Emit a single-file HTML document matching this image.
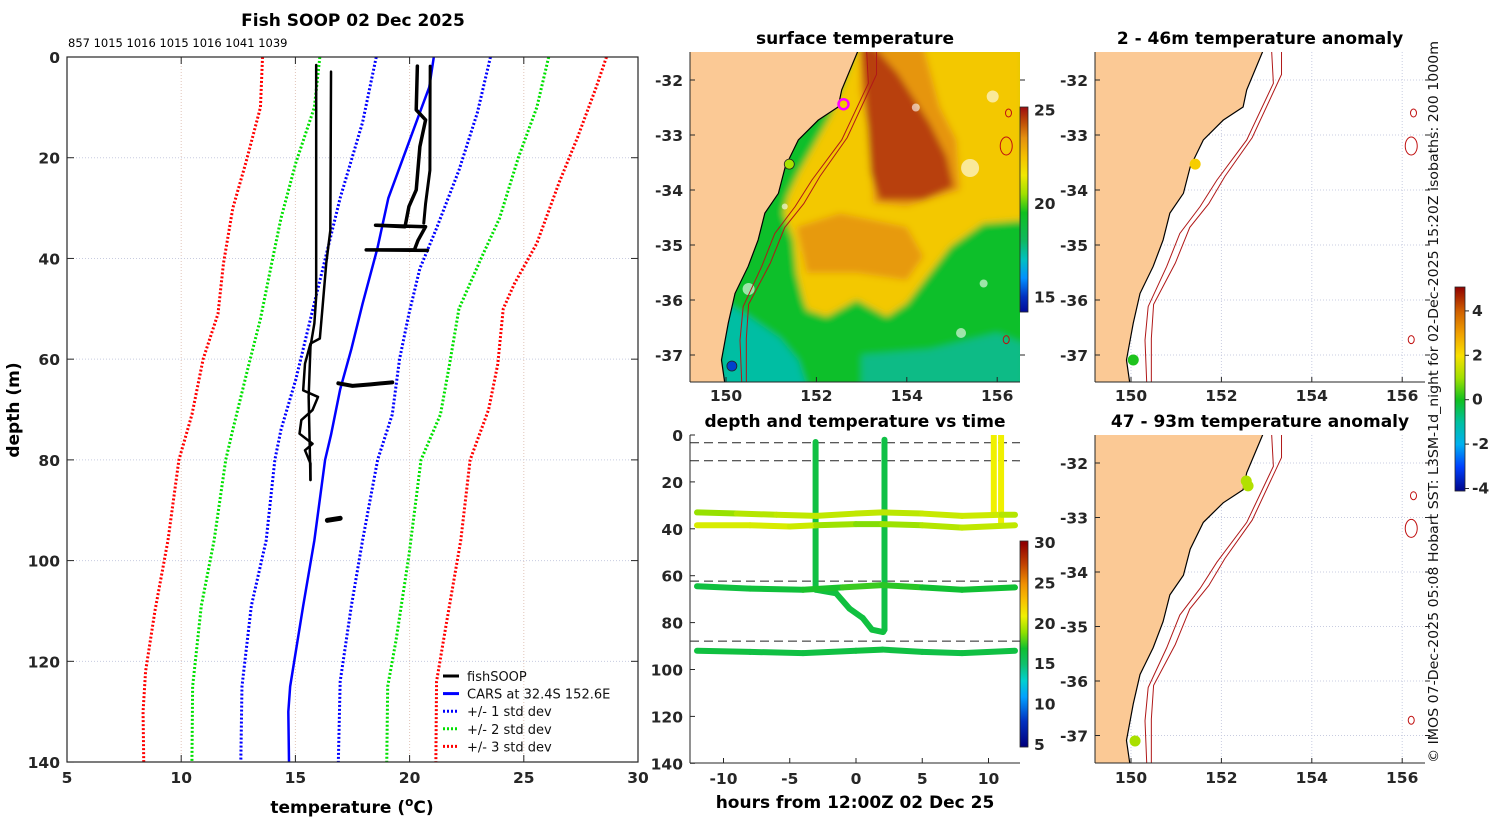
<!DOCTYPE html>
<html><head><meta charset="utf-8">
<style>
html,body{margin:0;padding:0;background:#fff;}
svg{display:block;font-family:"DejaVu Sans","Liberation Sans",sans-serif;}
.tk{font-weight:bold;font-size:15.5px;fill:#262626;}
.ttl{font-weight:bold;font-size:17px;fill:#000;}
</style></head>
<body>
<svg id="chart" width="1500" height="820" viewBox="0 0 1500 820" xmlns="http://www.w3.org/2000/svg">
<defs>
<clipPath id="clip1"><rect x="67" y="57" width="571" height="705"/></clipPath>
<clipPath id="clip2"><rect x="690" y="52" width="330" height="330"/></clipPath>
<clipPath id="clip3"><rect x="690" y="435" width="330" height="328"/></clipPath>
<clipPath id="clip4"><rect x="1095" y="52" width="330" height="330"/></clipPath>
<clipPath id="clip5"><rect x="1095" y="435" width="330" height="328"/></clipPath>
<filter id="blur" x="-5%" y="-5%" width="110%" height="110%"><feGaussianBlur stdDeviation="3.5"/></filter>
</defs>
<text class="ttl" x="353" y="26" text-anchor="middle">Fish SOOP 02 Dec 2025</text>
<text x="68" y="47" font-size="11.5" fill="#000">857 1015 1016 1015 1016 1041 1039</text>
<text class="ttl" x="855" y="44" text-anchor="middle">surface temperature</text>
<text class="ttl" x="1260" y="44" text-anchor="middle">2 - 46m temperature anomaly</text>
<text class="ttl" x="855" y="427" text-anchor="middle">depth and temperature vs time</text>
<text class="ttl" x="1260" y="427" text-anchor="middle">47 - 93m temperature anomaly</text>
<text class="ttl" x="0" y="0" text-anchor="middle" transform="translate(19,410) rotate(-90)">depth (m)</text>
<text class="ttl" x="352" y="813" text-anchor="middle">temperature (<tspan dy="-7" font-size="12">o</tspan><tspan dy="7">C)</tspan></text>
<text class="ttl" x="855" y="808" text-anchor="middle">hours from 12:00Z 02 Dec 25</text>
<text x="0" y="0" font-size="13" fill="#111" textLength="722" lengthAdjust="spacingAndGlyphs" transform="translate(1438,763) rotate(-90)">© IMOS 07-Dec-2025 05:08 Hobart SST: L3SM-1d_night for 02-Dec-2025 15:20Z isobaths: 200  1000m</text>
</svg>
<script>
// ---------- Panel 1 data ----------
const xTicks1 = [5,10,15,20,25,30];
const yTicks1 = [0,20,40,60,80,100,120,140];
const carsDepth = [0,6,11,20,28,38,49,58,66,75,80,96,109,125,130,140];
const carsTemp  = [21.06,20.86,20.45,19.72,19.07,18.59,17.94,17.45,16.96,16.56,16.3,15.83,15.34,14.77,14.69,14.72];
const sd1LoDepth = [0,13,28,40,52,64,74,80,96,109,125,140];
const sd1LoTemp  = [18.54,17.94,16.96,16.31,15.66,15.02,14.37,14.1,13.72,13.07,12.66,12.61];
const sd1HiDepth = [0,11,22.5,34,42,51,60,71,80,96,109,124,140];
const sd1HiTemp  = [23.54,22.97,22.16,21.18,20.45,19.97,19.56,19.24,18.6,17.94,17.45,16.96,16.88];
const sd2LoDepth = [0,10,21,32,41,52,62,74,80,96,109,125,140];
const sd2LoTemp  = [16.07,15.83,15.02,14.37,13.96,13.47,12.91,12.26,11.95,11.44,10.88,10.5,10.47];
const sd2HiDepth = [0,10,20,32,40,50,61,71,80,99,116,125,140];
const sd2HiTemp  = [26.09,25.57,24.76,23.94,23.13,22.16,21.75,21.35,20.5,19.97,19.4,19.04,19.0];
const sd3LoDepth = [0,10,21,30,41,51,60,71,80,96,110,122,130,140];
const sd3LoTemp  = [13.56,13.47,12.83,12.26,11.85,11.61,10.96,10.47,9.9,9.42,8.85,8.44,8.33,8.36];
const sd3HiDepth = [0,6,16,25,37,45,50,61,70,80,96,113,124,140];
const sd3HiTemp  = [28.62,28.17,27.35,26.54,25.57,24.59,24.1,23.86,23.46,22.65,22.24,21.59,21.18,21.15];
const castATemp  = [15.91,15.91,15.83,15.66,15.58,15.66];
const castADepth = [1.6,47.6,52.9,57.5,67.5,84];
const castBTemp  = [16.56,16.53,16.35,16.19,16.07,15.66,15.42,15.34,15.99,15.75,15.26,15.18,15.75,15.42,15.66,15.66];
const castBDepth = [2.9,34.4,41,49.6,55.9,56.9,60.9,66.2,67.5,70.1,72.1,74.8,76.8,78.1,80.7,84];
const castCTemp  = [20.34,20.29,20.7,20.45,20.29,19.97,19.8,18.51,20.7,20.37,20.21,18.1,20.78];
const castCDepth = [1.8,10.5,12.5,17.8,26.4,29.7,33.7,33.4,33.7,36.4,38.3,38.3,38.4];
const castDTemp  = [20.9,20.89,20.7,20.62];
const castDDepth = [1.8,22.5,29.1,33];
const blob65Temp  = [16.88,17.5,18.3,19.24];
const blob65Depth = [64.8,65.3,65,64.6];
const blob92Temp  = [16.4,16.96];
const blob92Depth = [92,91.6];

// ---------- Panel 3 data ----------
const hourTicks = [-10,-5,0,5,10];
const depthTicks3 = [0,20,40,60,80,100,120,140];
const t34Hours = [-12,-9,-6,-3,0,2,5,8,11,12];
const t34Depth = [33,33.5,34,34.5,33.5,33,33.5,34.5,34,34];
const t34Temp  = [18.8,19.5,20,20,20,20,19.8,20.5,20,19.5];
const t38Hours = [-12,-8,-5,-3,0,2,5,8,12];
const t38Depth = [38.5,38.5,39,38.5,38,38,38.5,39.5,38.5];
const t38Temp  = [20.5,20.5,20.5,20,18.6,19,19.5,20,20];
const t65Hours = [-12,-8,-4,-1,2,5,8,12];
const t65Depth = [64.5,65.5,66,65,64,65,66,65];
const t65Temp  = [16.5,16.5,16.8,17.5,17.8,17,16.8,17];
const t92Hours = [-12,-8,-4,0,2,5,8,12];
const t92Depth = [92,92.5,93,92,91.5,92.5,93,92];
const t92Temp  = [16.5,16.5,16.3,16.5,16.5,16.3,16.3,16.5];
const v1Hours = [-3.05,-3.05]; const v1Depth = [3,66]; const v1Temp = [16.4,16.4];
const v2Hours = [2.15,2.15,2.05]; const v2Depth = [2,83,84]; const v2Temp = [16.3,16.3,16.3];
const dgHours = [-3,-1.5,-0.5,0.5,1.2,2]; const dgDepth = [66,67.5,74,78,83,84]; const dgTemp = [16.5,16.5,16.5,16.5,16.5,16.5];
const v3Hours = [10.4,10.4]; const v3Depth = [0,34]; const v3Temp = [21,21];
const v4Hours = [10.95,10.95]; const v4Depth = [0,38]; const v4Temp = [21,21];
const dashDepths = [3.3,11,62.3,87.9];
const cbTicks3 = [5,10,15,20,25,30];

// ---------- Map data (lon, lat) ----------
const lonTicks = [150,152,154,156];
const latTicks = [-32,-33,-34,-35,-36,-37];
const coastLon = [152.93,152.56,152.48,152.04,151.6,151.31,151.16,150.86,150.71,150.49,150.2,150.05,149.9,149.98];
const coastLat = [-31.45,-32.18,-32.49,-32.73,-33.09,-33.58,-34.06,-34.42,-34.91,-35.39,-35.88,-36.42,-37.09,-37.55];
const iso200Lon = [153.11,153.15,152.56,151.9,151.53,151.08,150.79,150.38,150.31,150.35];
const iso200Lat = [-31.45,-32.06,-33.09,-33.82,-34.3,-34.79,-35.39,-36.12,-36.73,-37.55];
const iso1000Lon = [153.33,153.33,152.68,152.08,151.72,151.3,150.98,150.5,150.45,150.45];
const iso1000Lat = [-31.45,-31.9,-33.05,-33.75,-34.25,-34.68,-35.33,-36.08,-36.7,-37.55];
const mountLon = [156.25,156.2,156.2];
const mountLat = [-32.6,-33.2,-36.72];
const yellowLon = [151.27,151.49,151.56,151.71,151.79,152.23,152.89,153.56,154.0,154.51,154.96,155.69,156.6,156.6,152.89,152.55,152.3,151.6,151.36];
const yellowLat = [-34.42,-34.91,-35.51,-36.0,-36.18,-36.3,-36.0,-36.3,-36.06,-35.51,-35.03,-34.61,-34.55,-31.4,-31.4,-32.18,-32.67,-33.7,-34.12];
const orangeLon = [152.96,154.37,154.73,155.1,155.18,154.0,153.26,153.19,152.96];
const orangeLat = [-31.4,-31.4,-32.49,-33.09,-34.0,-34.3,-34.24,-33.09,-32.18];
const orange2Lon = [151.56,152.52,154.0,154.37,154.0,152.89,151.79];
const orange2Lat = [-34.67,-34.42,-34.67,-35.21,-35.64,-35.51,-35.51];
const brownLon = [152.98,153.28,153.8,154.51,154.88,155.03,154.37,153.4,153.2,153.1];
const brownLat = [-31.4,-31.4,-31.88,-32.79,-33.39,-33.94,-34.18,-34.18,-33.7,-32.49];
const tealLon = [149.9,150.5,151.2,151.6,151.8,149.9];
const tealLat = [-36.0,-36.3,-36.7,-37.1,-37.6,-37.6];
const teal2Lon = [153.0,154.5,156.0,156.6,156.6,153.0];
const teal2Lat = [-37.0,-36.9,-36.6,-36.8,-37.6,-37.6];
const fieldTemps = [19.3,22.3,23.4,23.3,24.5,17.3,17.6];
const cloudLon = [155.4,155.9,150.5,150.9,151.3,155.7,155.2,154.2];
const cloudLat = [-33.6,-32.3,-35.8,-33.4,-34.3,-35.7,-36.6,-32.5];
const cloudR   = [9,6,6,4,3,4,5,4];
const sstDotLon = [151.4,150.13]; const sstDotLat = [-33.53,-37.2]; const sstDotTemp = [20.6,15.2];
const shipLon = 152.6; const shipLat = -32.44;
const anom1Lon = [151.42,150.05]; const anom1Lat = [-33.53,-37.09]; const anom1Val = [2.3,0.1];
const anom2Lon = [152.59,152.55,150.09]; const anom2Lat = [-32.42,-32.33,-37.1]; const anom2Val = [1.2,1.2,1.1];
const sstTicks = [15,20,25];
const anomTicks = [-4,-2,0,2,4];

// ---------- helpers ----------
const NS='http://www.w3.org/2000/svg';
const svg=document.getElementById('chart');
function mk(parent, tag, attrs, name, inter){
  const el=document.createElementNS(NS,tag);
  for(const k in attrs) el.setAttribute(k, attrs[k]);
  
  
  parent.appendChild(el); return el;
}
function hex2rgb(h){return [parseInt(h.slice(1,3),16),parseInt(h.slice(3,5),16),parseInt(h.slice(5,7),16)];}
function cmap(stops, v){
  if(v<=stops[0][0]) return stops[0][1];
  for(let i=1;i<stops.length;i++){
    if(v<=stops[i][0]){
      const f=(v-stops[i-1][0])/(stops[i][0]-stops[i-1][0]);
      const a=hex2rgb(stops[i-1][1]), b=hex2rgb(stops[i][1]);
      return 'rgb('+a.map((x,j)=>Math.round(x+(b[j]-x)*f)).join(',')+')';
    }
  }
  return stops[stops.length-1][1];
}
const sstStops=[[14,'#00008f'],[15,'#0030c0'],[16,'#0090ff'],[17,'#00c0c0'],[18,'#10b860'],[19.5,'#10c020'],[20.5,'#a0e000'],[21.5,'#f0e800'],[22.5,'#f4c000'],[23.5,'#e49010'],[24.3,'#c05008'],[25.1,'#a01010']];
const jetStops=[[5,'#00007f'],[8,'#0030c0'],[11,'#00a0ff'],[13,'#00d0d0'],[15,'#10c070'],[17,'#10c030'],[19,'#90e000'],[21,'#f0f000'],[23,'#f8c000'],[25,'#f09000'],[27.5,'#c04000'],[30,'#900000']];
const anomStops=[[-4.2,'#00007f'],[-3,'#0040ff'],[-2,'#00b0f0'],[-1,'#00c0a0'],[0,'#10c020'],[1,'#a0e000'],[2,'#f8e000'],[3,'#f0a000'],[4,'#d06000'],[5.1,'#900000']];

// ---------- Panel 1 ----------
const px1=t=>67+(t-5)*22.84, py1=d=>57+d*5.036;
const g1=mk(svg,'g',{},'profile-panel',false);
xTicks1.forEach(t=>{
  if(t>5&&t<30) mk(g1,'line',{x1:px1(t),x2:px1(t),y1:57,y2:762,stroke:'#e2c4b8','stroke-width':1,'stroke-dasharray':'1,2'},'x-gridline',false);
  mk(g1,'line',{x1:px1(t),x2:px1(t),y1:762,y2:755,stroke:'#262626'},'x-tick',false);
  mk(g1,'line',{x1:px1(t),x2:px1(t),y1:57,y2:64,stroke:'#262626'},'x-tick-top',false);
  const tx=mk(g1,'text',{x:px1(t),y:783,'text-anchor':'middle',class:'tk'},'x-tick-label',false); tx.textContent=t;
});
yTicks1.forEach(d=>{
  if(d>0&&d<140) mk(g1,'line',{x1:67,x2:638,y1:py1(d),y2:py1(d),stroke:'#c8cce0','stroke-width':1,'stroke-dasharray':'1,2'},'y-gridline',false);
  mk(g1,'line',{x1:67,x2:74,y1:py1(d),y2:py1(d),stroke:'#262626'},'y-tick',false);
  mk(g1,'line',{x1:631,x2:638,y1:py1(d),y2:py1(d),stroke:'#262626'},'y-tick-right',false);
  const tx=mk(g1,'text',{x:60,y:py1(d)+6,'text-anchor':'end',class:'tk'},'y-tick-label',false); tx.textContent=d;
});
const c1=mk(g1,'g',{'clip-path':'url(#clip1)'},'profile-plot-area',false);
function prof(T,D,stroke,w,dash,name){
  mk(c1,'polyline',{points:T.map((t,i)=>px1(t)+','+py1(D[i])).join(' '),fill:'none',stroke:stroke,'stroke-width':w,'stroke-dasharray':dash||'none','stroke-linejoin':'round','stroke-linecap':dash?'butt':'round'},name,false);
}
prof(sd3LoTemp,sd3LoDepth,'#ff0000',3,'2,2','minus-3-std');
prof(sd3HiTemp,sd3HiDepth,'#ff0000',3,'2,2','plus-3-std');
prof(sd2LoTemp,sd2LoDepth,'#00e000',3,'2,2','minus-2-std');
prof(sd2HiTemp,sd2HiDepth,'#00e000',3,'2,2','plus-2-std');
prof(sd1LoTemp,sd1LoDepth,'#0000ff',3,'2,2','minus-1-std');
prof(sd1HiTemp,sd1HiDepth,'#0000ff',3,'2,2','plus-1-std');
prof(carsTemp,carsDepth,'#0000ff',2.5,null,'cars-mean-line');
prof(castATemp,castADepth,'#000',2.5,null,'fishsoop-cast-a');
prof(castBTemp,castBDepth,'#000',2.5,null,'fishsoop-cast-b');
prof(castCTemp,castCDepth,'#000',3.5,null,'fishsoop-cast-c');
prof(castDTemp,castDDepth,'#000',3,null,'fishsoop-cast-d');
prof(blob65Temp,blob65Depth,'#000',4,null,'fishsoop-blob-65m');
prof(blob92Temp,blob92Depth,'#000',5,null,'fishsoop-blob-92m');
mk(g1,'rect',{x:67,y:57,width:571,height:705,fill:'none',stroke:'#262626','stroke-width':1.2},'profile-axes-box',false);
const lg=mk(g1,'g',{},'legend',false);
const legItems=[['fishSOOP','#000',null],['CARS at 32.4S 152.6E','#0000ff',null],['+/- 1 std dev','#0000ff','2,2'],['+/- 2 std dev','#00e000','2,2'],['+/- 3 std dev','#ff0000','2,2']];
legItems.forEach((it,i)=>{
  const y=676+i*17.6;
  const e=mk(lg,'g',{},'legend-entry',false);
  mk(e,'line',{x1:443,x2:459,y1:y,y2:y,stroke:it[1],'stroke-width':3,'stroke-dasharray':it[2]||'none'},'legend-swatch',false);
  const tx=mk(e,'text',{x:467,y:y+5,'font-size':13,fill:'#111'},'legend-label',false); tx.textContent=it[0];
});

// ---------- Map helpers ----------
function proj(x0,y0,latTop){return {x:lon=>x0+(lon-150)*45.2, y:lat=>y0+(latTop-lat)*55};}
function pts(P,L,A){return L.map((v,i)=>P.x(v)+','+P.y(A[i])).join(' ');}
function drawGeo(c,P){
  const landL=coastLon.concat([147,147]), landA=coastLat.concat([-38,-31]);
  mk(c,'polygon',{points:pts(P,landL,landA),fill:'#fbc995',stroke:'none'},'land',false);
  mk(c,'polyline',{points:pts(P,coastLon,coastLat),fill:'none',stroke:'#000','stroke-width':1.2},'coastline',false);
  mk(c,'polyline',{points:pts(P,iso200Lon,iso200Lat),fill:'none',stroke:'#b01818','stroke-width':1},'isobath-200m',false);
  mk(c,'polyline',{points:pts(P,iso1000Lon,iso1000Lat),fill:'none',stroke:'#b01818','stroke-width':1},'isobath-1000m',false);
  mountLon.forEach((lo,i)=>{
    mk(c,'ellipse',{cx:P.x(lo),cy:P.y(mountLat[i]),rx:i==1?6:3,ry:i==1?9:4,fill:'none',stroke:'#c01010','stroke-width':1},'seamount-contour',false);
  });
}
function axes(g,P,x0,y0,w,h,labY){
  lonTicks.forEach(lo=>{
    const tx=mk(g,'text',{x:P.x(lo),y:labY,'text-anchor':'middle',class:'tk'},'lon-tick-label',false); tx.textContent=lo;
    mk(g,'line',{x1:P.x(lo),x2:P.x(lo),y1:y0+h,y2:y0+h-5,stroke:'#262626'},'lon-tick',false);
  });
  latTicks.forEach(la=>{
    const tx=mk(g,'text',{x:x0-7,y:P.y(la)+6,'text-anchor':'end',class:'tk'},'lat-tick-label',false); tx.textContent=la;
    mk(g,'line',{x1:x0,x2:x0+5,y1:P.y(la),y2:P.y(la),stroke:'#262626'},'lat-tick',false);
    mk(g,'line',{x1:x0+w,x2:x0+w+5,y1:P.y(la),y2:P.y(la),stroke:'#262626'},'lat-tick-right',false);
  });
  mk(g,'line',{x1:x0,x2:x0,y1:y0,y2:y0+h,stroke:'#262626'},'map-left-axis',false);
  mk(g,'line',{x1:x0,x2:x0+w,y1:y0+h,y2:y0+h,stroke:'#262626'},'map-bottom-axis',false);
}
function grid(c,P,x0,y0,w,h){
  lonTicks.forEach(lo=>mk(c,'line',{x1:P.x(lo),x2:P.x(lo),y1:y0,y2:y0+h,stroke:'#c8cce0','stroke-dasharray':'1,2'},'lon-gridline',false));
  latTicks.forEach(la=>mk(c,'line',{x1:x0,x2:x0+w,y1:P.y(la),y2:P.y(la),stroke:'#c8cce0','stroke-dasharray':'1,2'},'lat-gridline',false));
}

// ---------- Panel 2 SST ----------
const P2=proj(726,80,-32);
const g2=mk(svg,'g',{},'sst-map',false);
const c2=mk(g2,'g',{'clip-path':'url(#clip2)'},'map-area',false);
const fld=mk(c2,'g',{filter:'url(#blur)'},'sst-field',false);
mk(fld,'rect',{x:680,y:40,width:350,height:350,fill:cmap(sstStops,fieldTemps[0])},'sst-base',false);
mk(fld,'polygon',{points:pts(P2,tealLon,tealLat),fill:cmap(sstStops,fieldTemps[5])},'sst-cool-water',false);
mk(fld,'polygon',{points:pts(P2,teal2Lon,teal2Lat),fill:cmap(sstStops,fieldTemps[6])},'sst-cool-water-south',false);
mk(fld,'polygon',{points:pts(P2,yellowLon,yellowLat),fill:cmap(sstStops,fieldTemps[1])},'sst-warm-region',false);
mk(fld,'polygon',{points:pts(P2,orangeLon,orangeLat),fill:cmap(sstStops,fieldTemps[2])},'sst-eac-core',false);
mk(fld,'polygon',{points:pts(P2,orange2Lon,orange2Lat),fill:cmap(sstStops,fieldTemps[3])},'sst-eddy',false);
mk(fld,'polygon',{points:pts(P2,brownLon,brownLat),fill:cmap(sstStops,fieldTemps[4])},'sst-hot-core',false);
cloudLon.forEach((lo,i)=>mk(c2,'circle',{cx:P2.x(lo),cy:P2.y(cloudLat[i]),r:cloudR[i],fill:'#fff',opacity:0.6},'cloud-gap',false));
drawGeo(c2,P2);
sstDotLon.forEach((lo,i)=>mk(c2,'circle',{cx:P2.x(lo),cy:P2.y(sstDotLat[i]),r:5,fill:cmap(sstStops,sstDotTemp[i]),stroke:'#222','stroke-width':0.8},'sst-obs-dot',false));
mk(c2,'circle',{cx:P2.x(shipLon),cy:P2.y(shipLat),r:5,fill:'none',stroke:'#ff00ff','stroke-width':2.5},'cars-location-marker',false);
axes(g2,P2,690,52,330,330,401);
const cbS=mk(g2,'g',{},'sst-colorbar',false);
const sy=v=>109.3+(25-v)*18.7;
for(let y=107;y<312;y++){ mk(cbS,'rect',{x:1020,y:y,width:8,height:1.2,fill:cmap(sstStops,25-(y-109.3)/18.7)},'sst-colorbar-cell',false); }
mk(cbS,'rect',{x:1020,y:107,width:8,height:205,fill:'none',stroke:'#262626','stroke-width':0.8},'sst-colorbar-frame',false);
sstTicks.forEach(v=>{const tx=mk(cbS,'text',{x:1034,y:sy(v)+6,class:'tk'},'sst-colorbar-label',false); tx.textContent=v;});

// ---------- Panel 3 ----------
const px3=h=>856+h*13.25, py3=d=>435+d*2.345;
const g3=mk(svg,'g',{},'time-panel',false);
hourTicks.forEach(h=>{
  const tx=mk(g3,'text',{x:px3(h),y:784,'text-anchor':'middle',class:'tk'},'hour-tick-label',false); tx.textContent=h;
  mk(g3,'line',{x1:px3(h),x2:px3(h),y1:763,y2:758,stroke:'#262626'},'hour-tick',false);
});
depthTicks3.forEach(d=>{
  const tx=mk(g3,'text',{x:683,y:py3(d)+6,'text-anchor':'end',class:'tk'},'depth-tick-label',false); tx.textContent=d;
  mk(g3,'line',{x1:690,x2:695,y1:py3(d),y2:py3(d),stroke:'#262626'},'depth-tick',false);
});
const c3=mk(g3,'g',{'clip-path':'url(#clip3)'},'time-plot-area',false);
dashDepths.forEach(d=>mk(c3,'line',{x1:690,x2:1020,y1:py3(d),y2:py3(d),stroke:'#222','stroke-width':1,'stroke-dasharray':'9,5'},'depth-bin-dash',false));
function track(H,D,T,name){
  const tg=mk(c3,'g',{},name,false);
  for(let i=1;i<H.length;i++){
    mk(tg,'line',{x1:px3(H[i-1]),y1:py3(D[i-1]),x2:px3(H[i]),y2:py3(D[i]),stroke:cmap(jetStops,(T[i-1]+T[i])/2),'stroke-width':6,'stroke-linecap':'round'},'track-segment',false);
  }
}
track(v1Hours,v1Depth,v1Temp,'cast-vertical-1');
track(v2Hours,v2Depth,v2Temp,'cast-vertical-2');
track(dgHours,dgDepth,dgTemp,'cast-descent');
track(v3Hours,v3Depth,v3Temp,'cast-vertical-3');
track(v4Hours,v4Depth,v4Temp,'cast-vertical-4');
track(t34Hours,t34Depth,t34Temp,'track-34m');
track(t38Hours,t38Depth,t38Temp,'track-38m');
track(t65Hours,t65Depth,t65Temp,'track-65m');
track(t92Hours,t92Depth,t92Temp,'track-92m');
mk(g3,'line',{x1:690,x2:690,y1:435,y2:763,stroke:'#262626'},'time-left-axis',false);
mk(g3,'line',{x1:690,x2:1020,y1:763,y2:763,stroke:'#262626'},'time-bottom-axis',false);
const cbT=mk(g3,'g',{},'time-colorbar',false);
const ty=v=>543+(30-v)*8.08;
for(let y=541;y<747;y++){ mk(cbT,'rect',{x:1020,y:y,width:8,height:1.2,fill:cmap(jetStops,30-(y-543)/8.08)},'time-colorbar-cell',false); }
mk(cbT,'rect',{x:1020,y:541,width:8,height:206,fill:'none',stroke:'#262626','stroke-width':0.8},'time-colorbar-frame',false);
cbTicks3.forEach(v=>{const tx=mk(cbT,'text',{x:1034,y:ty(v)+5,class:'tk','font-size':'14'},'time-colorbar-label',false); tx.textContent=v;});

// ---------- Panels 4/5 ----------
function anomPanel(y0,latAnchorY,name,lons,lats,vals,labY){
  const P={x:lon=>1131+(lon-150)*45.2, y:lat=>latAnchorY+(-32-lat)*(name==='anomaly-map-deep'?54.5:55)};
  const g=mk(svg,'g',{},name,false);
  const c=mk(g,'g',{'clip-path':'url('+(name==='anomaly-map-deep'?'#clip5':'#clip4')+')'},'map-area',false);
  grid(c,P,1095,y0,330,330);
  drawGeo(c,P);
  lons.forEach((lo,i)=>mk(c,'circle',{cx:P.x(lo),cy:P.y(lats[i]),r:5.5,fill:cmap(anomStops,vals[i])},'anomaly-dot',false));
  axes(g,P,1095,y0,330,y0===52?330:328,labY);
}
anomPanel(52,80,'anomaly-map-shallow',anom1Lon,anom1Lat,anom1Val,401);
anomPanel(435,463,'anomaly-map-deep',anom2Lon,anom2Lat,anom2Val,783);
const cbA=mk(svg,'g',{},'anomaly-colorbar',false);
const ay=v=>399.7-v*22.2;
for(let y=287;y<491;y++){ mk(cbA,'rect',{x:1455,y:y,width:10,height:1.2,fill:cmap(anomStops,(399.7-y)/22.2)},'anomaly-colorbar-cell',false); }
mk(cbA,'rect',{x:1455,y:287,width:10,height:204,fill:'none',stroke:'#262626','stroke-width':0.8},'anomaly-colorbar-frame',false);
anomTicks.forEach(v=>{
  mk(cbA,'line',{x1:1465,x2:1469,y1:ay(v),y2:ay(v),stroke:'#262626'},'anomaly-colorbar-tick',false);
  const tx=mk(cbA,'text',{x:1472,y:ay(v)+5,class:'tk','font-size':'13'},'anomaly-colorbar-label',false); tx.textContent=v;
});
</script>
</body></html>
